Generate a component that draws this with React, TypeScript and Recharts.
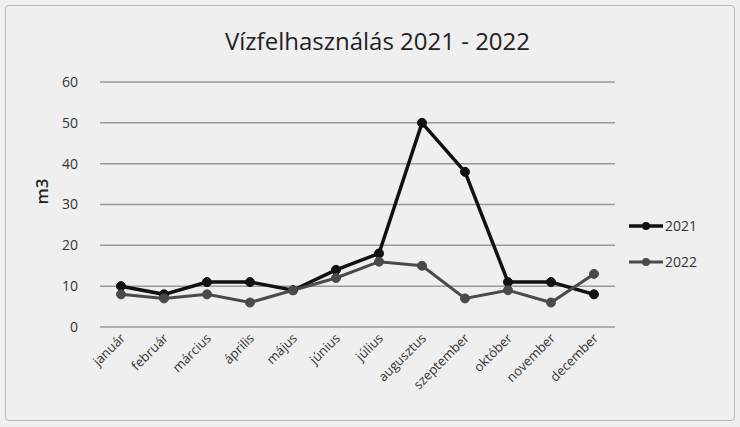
import React from 'react';
import { LineChart, Line, XAxis, YAxis, CartesianGrid } from 'recharts';

const months = [
  'január', 'február', 'március', 'április', 'május', 'június',
  'július', 'augusztus', 'szeptember', 'október', 'november', 'december',
];
const values2021 = [10, 8, 11, 11, 9, 14, 18, 50, 38, 11, 11, 8];
const values2022 = [8, 7, 8, 6, 9, 12, 16, 15, 7, 9, 6, 13];
const yTicks = [0, 10, 20, 30, 40, 50, 60];

const data = months.map((m, i) => ({ name: m, y2021: values2021[i], y2022: values2022[i] }));

const FONT = '"Open Sans", "Noto Sans", sans-serif';

const AngledTick = ({ x, y, payload }: any) => (
  <g transform={`translate(${x + 5},${y + 4})`}>
    <text
      textAnchor="end"
      transform="rotate(-45)"
      fontSize={13}
      fill="#333"
      fontFamily={FONT}
    >
      {payload.value}
    </text>
  </g>
);

const LegendBox = () => {
  const items = [
    { label: '2021', color: '#111', width: 3.5 },
    { label: '2022', color: '#4a4a4a', width: 3 },
  ];
  return (
    <svg width={90} height={70} style={{ position: 'absolute', left: 627, top: 214 }}>
      {items.map((it, i) => (
        <g key={it.label} transform={`translate(0,${12 + i * 36})`}>
          <line x1={2} y1={0} x2={36} y2={0} stroke={it.color} strokeWidth={it.width} />
          <circle cx={19} cy={0} r={4} fill={it.color} />
          <text x={38} y={5} fontSize={14} fill="#333" fontFamily={FONT}>
            {it.label}
          </text>
        </g>
      ))}
    </svg>
  );
};

export default function App() {
  return (
    <div
      style={{
        position: 'absolute',
        left: 0,
        top: 0,
        width: 740,
        height: 427,
        background: '#efefef',
      }}
    >
      <div
        style={{
          position: 'absolute',
          left: 5,
          top: 5,
          width: 728,
          height: 414,
          border: '1px solid #b8b8b8',
          borderRadius: 4,
        }}
      />
      <div
        style={{
          position: 'absolute',
          top: 24,
          left: 0,
          width: 755,
          textAlign: 'center',
          fontFamily: FONT,
          fontSize: 24,
          color: '#222',
        }}
      >
        Vízfelhasználás 2021 - 2022
      </div>
      <LineChart
        width={740}
        height={427}
        data={data}
        margin={{ top: 82, right: 125, bottom: 30, left: 60 }}
        style={{ position: 'absolute', left: 0, top: 0 }}
      >
        <CartesianGrid vertical={false} stroke="#9a9a9a" strokeWidth={1.5} />
        <XAxis
          dataKey="name"
          height={70}
          axisLine={false}
          tickLine={false}
          interval={0}
          padding={{ left: 21, right: 21 }}
          tick={<AngledTick />}
        />
        <YAxis
          width={40}
          domain={[0, 60]}
          ticks={yTicks}
          axisLine={false}
          tickLine={false}
          tickMargin={16}
          tick={{ fontSize: 14, fill: '#333', fontFamily: FONT }}
          label={{
            value: 'm3',
            angle: -90,
            position: 'insideLeft',
            offset: -18,
            style: { fontSize: 17, fontWeight: 600, fill: '#222', fontFamily: FONT },
          }}
        />
        <Line
          dataKey="y2021"
          stroke="#111"
          strokeWidth={3.5}
          dot={{ r: 4.5, fill: '#111', stroke: '#111', strokeWidth: 1 }}
          isAnimationActive={false}
        />
        <Line
          dataKey="y2022"
          stroke="#4a4a4a"
          strokeWidth={3}
          dot={{ r: 4.5, fill: '#4a4a4a', stroke: '#4a4a4a', strokeWidth: 1 }}
          isAnimationActive={false}
        />
      </LineChart>
      <LegendBox />
    </div>
  );
}
